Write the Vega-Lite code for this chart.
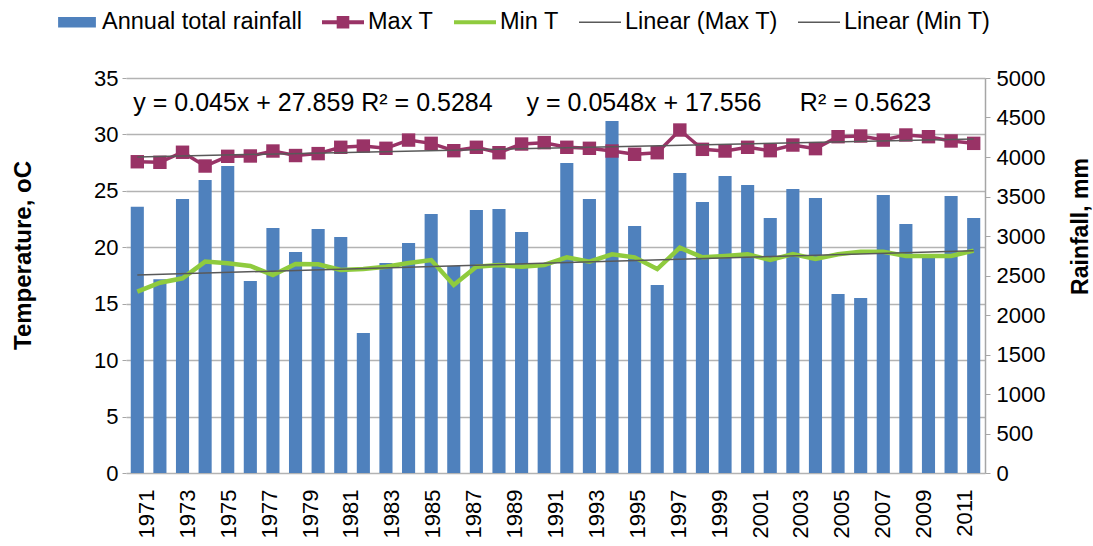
{
  "$schema": "https://vega.github.io/schema/vega-lite/v6.json",
  "width": 859,
  "height": 395,
  "autosize": {"type": "none"},
  "padding": {"left": 126, "top": 78, "right": 108, "bottom": 73},
  "background": "white",
  "config": {"font": "Liberation Sans", "view": {"stroke": null}},
  "datasets": {
    "d": [
      {"n": 1, "rain": 3371, "maxT": 27.58, "minT": 16.07},
      {"n": 2, "rain": 2452, "maxT": 27.53, "minT": 16.86},
      {"n": 3, "rain": 3468, "maxT": 28.42, "minT": 17.25},
      {"n": 4, "rain": 3709, "maxT": 27.2, "minT": 18.73},
      {"n": 5, "rain": 3886, "maxT": 28.06, "minT": 18.58},
      {"n": 6, "rain": 2430, "maxT": 28.09, "minT": 18.34},
      {"n": 7, "rain": 3101, "maxT": 28.53, "minT": 17.54},
      {"n": 8, "rain": 2797, "maxT": 28.13, "minT": 18.52},
      {"n": 9, "rain": 3089, "maxT": 28.3, "minT": 18.49},
      {"n": 10, "rain": 2987, "maxT": 28.86, "minT": 17.99},
      {"n": 11, "rain": 1772, "maxT": 28.97, "minT": 18.07},
      {"n": 12, "rain": 2658, "maxT": 28.77, "minT": 18.28},
      {"n": 13, "rain": 2911, "maxT": 29.5, "minT": 18.6},
      {"n": 14, "rain": 3278, "maxT": 29.21, "minT": 18.87},
      {"n": 15, "rain": 2620, "maxT": 28.56, "minT": 16.66},
      {"n": 16, "rain": 3329, "maxT": 28.86, "minT": 18.28},
      {"n": 17, "rain": 3342, "maxT": 28.38, "minT": 18.43},
      {"n": 18, "rain": 3051, "maxT": 29.15, "minT": 18.28},
      {"n": 19, "rain": 2633, "maxT": 29.27, "minT": 18.43},
      {"n": 20, "rain": 3924, "maxT": 28.86, "minT": 19.11},
      {"n": 21, "rain": 3468, "maxT": 28.77, "minT": 18.73},
      {"n": 22, "rain": 4456, "maxT": 28.53, "minT": 19.38},
      {"n": 23, "rain": 3127, "maxT": 28.24, "minT": 19.11},
      {"n": 24, "rain": 2380, "maxT": 28.38, "minT": 18.07},
      {"n": 25, "rain": 3797, "maxT": 30.39, "minT": 19.96},
      {"n": 26, "rain": 3430, "maxT": 28.68, "minT": 19.11},
      {"n": 27, "rain": 3759, "maxT": 28.53, "minT": 19.23},
      {"n": 28, "rain": 3646, "maxT": 28.86, "minT": 19.38},
      {"n": 29, "rain": 3228, "maxT": 28.56, "minT": 18.87},
      {"n": 30, "rain": 3595, "maxT": 29.06, "minT": 19.4},
      {"n": 31, "rain": 3481, "maxT": 28.74, "minT": 18.96},
      {"n": 32, "rain": 2266, "maxT": 29.8, "minT": 19.38},
      {"n": 33, "rain": 2215, "maxT": 29.86, "minT": 19.61},
      {"n": 34, "rain": 3519, "maxT": 29.5, "minT": 19.61},
      {"n": 35, "rain": 3152, "maxT": 29.95, "minT": 19.23},
      {"n": 36, "rain": 2720, "maxT": 29.8, "minT": 19.23},
      {"n": 37, "rain": 3506, "maxT": 29.42, "minT": 19.23},
      {"n": 38, "rain": 3228, "maxT": 29.21, "minT": 19.7}
    ],
    "series": [
      {"s": "Annual total rainfall"},
      {"s": "Max T"},
      {"s": "Min T"},
      {"s": "Linear (Max T)"},
      {"s": "Linear (Min T)"}
    ]
  },
  "layer": [
    {
      "data": {"name": "d"},
      "mark": {"type": "bar", "color": "#4F81BD"},
      "encoding": {
        "x": {"field": "n", "type": "ordinal", "scale": {"type": "band", "paddingInner": 0.42, "paddingOuter": 0.21}, "axis": null},
        "y": {
          "field": "rain", "type": "quantitative",
          "scale": {"domain": [0, 5000], "nice": false},
          "axis": {
            "orient": "right",
            "values": [0, 500, 1000, 1500, 2000, 2500, 3000, 3500, 4000, 4500, 5000],
            "format": "d",
            "grid": false,
            "domain": true, "domainColor": "#a6a6a6", "domainWidth": 1.5,
            "ticks": true, "tickColor": "#a6a6a6", "tickSize": 5,
            "labelFontSize": 22, "labelColor": "#000000", "labelPadding": 6,
            "title": "Rainfall, mm", "titleFontSize": 23, "titleFontWeight": "bold", "titleColor": "#000000",
            "titleAngle": -90, "titleBaseline": "top", "titlePadding": 25, "titleY": 148
          }
        }
      }
    },
    {
      "data": {"name": "d"},
      "layer": [
        {
          "mark": {"type": "line", "color": "#993366", "strokeWidth": 3.5},
          "encoding": {
            "x": {"field": "n", "type": "ordinal", "scale": {"type": "band", "paddingInner": 0.42, "paddingOuter": 0.21}, "axis": null},
            "y": {
              "field": "maxT", "type": "quantitative",
              "scale": {"domain": [0, 35], "nice": false},
              "axis": {
                "orient": "left",
                "values": [0, 5, 10, 15, 20, 25, 30, 35],
                "grid": true, "gridColor": "#b3b3b3", "gridWidth": 1.5,
                "domain": false,
                "ticks": true, "tickColor": "#a6a6a6", "tickSize": 4,
                "labelFontSize": 22, "labelColor": "#000000", "labelPadding": 4,
                "title": "Temperature, oC", "titleFontSize": 24, "titleFontWeight": "bold", "titleColor": "#000000",
                "titlePadding": 58, "titleY": 177
              }
            }
          }
        },
        {
          "mark": {"type": "point", "shape": "square", "filled": true, "size": 180, "color": "#993366", "opacity": 1},
          "encoding": {
            "x": {"field": "n", "type": "ordinal"},
            "y": {"field": "maxT", "type": "quantitative"}
          }
        },
        {
          "mark": {"type": "line", "color": "#8FCB3E", "strokeWidth": 4.5},
          "encoding": {
            "x": {"field": "n", "type": "ordinal"},
            "y": {"field": "minT", "type": "quantitative"}
          }
        },
        {
          "transform": [{"regression": "maxT", "on": "n"}],
          "mark": {"type": "line", "color": "#595959", "strokeWidth": 1.5},
          "encoding": {
            "x": {"field": "n", "type": "ordinal"},
            "y": {"field": "maxT", "type": "quantitative"}
          }
        },
        {
          "transform": [{"regression": "minT", "on": "n"}],
          "mark": {"type": "line", "color": "#595959", "strokeWidth": 1.5},
          "encoding": {
            "x": {"field": "n", "type": "ordinal"},
            "y": {"field": "minT", "type": "quantitative"}
          }
        },
        {
          "data": {"values": [{}]},
          "mark": {"type": "text", "align": "left", "baseline": "alphabetic", "fontSize": 25, "color": "#000000", "dx": -4, "text": "y = 0.045x + 27.859 R\u00b2  = 0.5284"},
          "encoding": {
            "x": {"datum": 1, "type": "ordinal"},
            "y": {"datum": 32.1, "type": "quantitative"}
          }
        },
        {
          "data": {"values": [{}]},
          "mark": {"type": "text", "align": "left", "baseline": "alphabetic", "fontSize": 25, "color": "#000000", "dx": 5, "text": "y = 0.0548x + 17.556"},
          "encoding": {
            "x": {"datum": 18, "type": "ordinal"},
            "y": {"datum": 32.1, "type": "quantitative"}
          }
        },
        {
          "data": {"values": [{}]},
          "mark": {"type": "text", "align": "left", "baseline": "alphabetic", "fontSize": 25, "color": "#000000", "dx": 7, "text": "R\u00b2  = 0.5623"},
          "encoding": {
            "x": {"datum": 30, "type": "ordinal"},
            "y": {"datum": 32.1, "type": "quantitative"}
          }
        },
        {
          "data": {"name": "series"},
          "transform": [{"filter": "false"}],
          "mark": {"type": "point", "filled": true},
          "encoding": {
            "color": {
              "field": "s", "type": "nominal",
              "scale": {
                "domain": ["Annual total rainfall", "Max T", "Min T", "Linear (Max T)", "Linear (Min T)"],
                "range": ["#4F81BD", "#993366", "#8FCB3E", "#595959", "#595959"]
              },
              "legend": {
                "title": null, "orient": "none", "legendX": -70, "legendY": -77,
                "direction": "horizontal", "columns": 5,
                "symbolSize": 1764, "symbolStrokeWidth": 0, "symbolOpacity": 1,
                "labelFontSize": 23.5, "labelColor": "#000000", "labelOffset": 4, "labelLimit": 400,
                "columnPadding": 20
              }
            },
            "shape": {
              "field": "s", "type": "nominal",
              "scale": {
                "domain": ["Annual total rainfall", "Max T", "Min T", "Linear (Max T)", "Linear (Min T)"],
                "range": [
                  "M-0.9,-0.25H0.9V0.25H-0.9Z",
                  "M-1,-0.1H1V0.1H-1ZM-0.3,-0.3H0.3V0.3H-0.3Z",
                  "M-1,-0.1H1V0.1H-1Z",
                  "M-1,-0.035H1V0.035H-1Z",
                  "M-1,-0.035H1V0.035H-1Z"
                ]
              },
              "legend": {
                "title": null, "orient": "none", "legendX": -70, "legendY": -77,
                "direction": "horizontal", "columns": 5,
                "symbolSize": 1764, "symbolStrokeWidth": 0, "symbolOpacity": 1,
                "labelFontSize": 23.5, "labelColor": "#000000", "labelOffset": 4, "labelLimit": 400,
                "columnPadding": 20
              }
            }
          }
        }
      ]
    },
    {
      "data": {"values": [{}]},
      "mark": {"type": "rule", "opacity": 0},
      "encoding": {
        "x": {
          "datum": 1991, "type": "quantitative",
          "scale": {"domain": [1970, 2012], "nice": false, "zero": false},
          "axis": {
            "orient": "bottom",
            "values": [1971, 1973, 1975, 1977, 1979, 1981, 1983, 1985, 1987, 1989, 1991, 1993, 1995, 1997, 1999, 2001, 2003, 2005, 2007, 2009, 2011],
            "format": "d",
            "labelAngle": -90, "labelFontSize": 22, "labelColor": "#000000", "labelPadding": 16,
            "labelOverlap": false, "labelBound": false,
            "ticks": false, "domain": false, "grid": false, "title": null
          }
        }
      }
    }
  ],
  "resolve": {"scale": {"x": "independent", "y": "independent"}}
}
